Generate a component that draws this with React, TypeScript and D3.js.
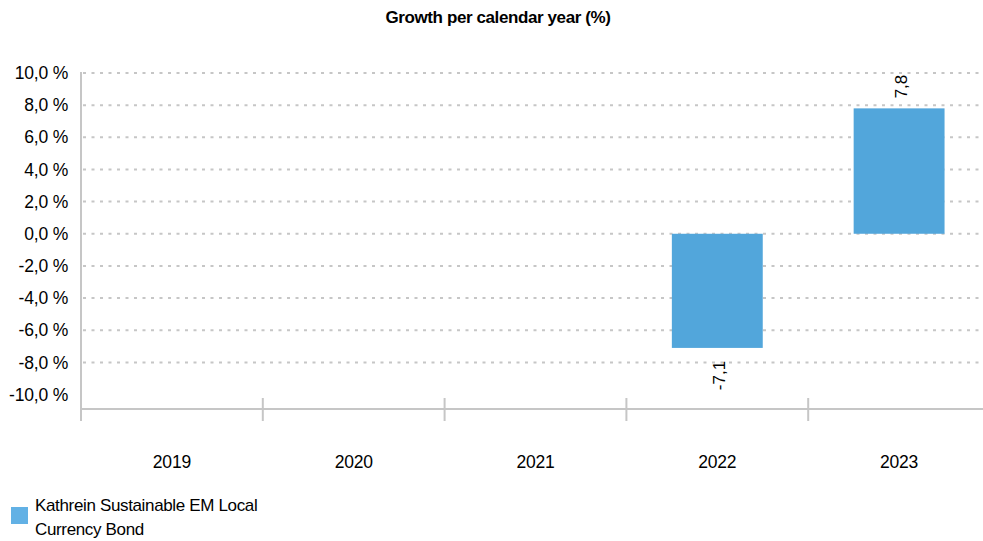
import React from "react";
import * as d3 from "d3";

const years = ["2019", "2020", "2021", "2022", "2023"];
const values: (number | null)[] = [null, null, null, -7.1, 7.8];
const yTicks = [-10, -8, -6, -4, -2, 0, 2, 4, 6, 8, 10];
const seriesName = ["Kathrein Sustainable EM Local", "Currency Bond"];
const title = "Growth per calendar year (%)";

const W = 983;
const H = 541;
const left = 81;
const right = 990;
const top = 73;
const bottom = 409;

export default function App() {
  const x = d3.scaleBand<string>().domain(years).range([left, right]).paddingInner(0.5).paddingOuter(0.25);
  const y = d3.scaleLinear().domain([-10.9, 10]).range([bottom, top]);
  const step = x.step();
  const fmt = (v: number) => d3.format(".1f")(v).replace(".", ",").replace("−", "-");
  const font = "'Liberation Sans', Arial, sans-serif";
  return (
    <svg width={W} height={H} style={{ position: "absolute", left: 0, top: 0 }} fontFamily={font}>
      <rect width={W} height={H} fill="#fff" />
      <text x={498} y={17} dy="0.35em" textAnchor="middle" fontWeight="bold" fontSize={17} letterSpacing={-0.4} fill="#000">
        {title}
      </text>
      {yTicks.map((t) => (
        <g key={t}>
          {t !== -10 && (
            <line x1={left + 2} x2={right} y1={y(t)} y2={y(t)} stroke="#c6c6c6" strokeWidth={2} strokeDasharray="3,5.5" />
          )}
          <text x={68} y={y(t)} dy="0.35em" textAnchor="end" fontSize={17.5} fill="#000" letterSpacing={-0.2}>
            {fmt(t) + " %"}
          </text>
        </g>
      ))}
      <line x1={left} x2={left} y1={top - 1} y2={bottom + 12} stroke="#c6c6c6" strokeWidth={2} />
      <line x1={left} x2={right} y1={bottom} y2={bottom} stroke="#c6c6c6" strokeWidth={2} />
      {years.map((yr, i) => (
        <g key={yr}>
          {i > 0 && (
            <line x1={left + i * step} x2={left + i * step} y1={bottom - 11} y2={bottom + 12} stroke="#c6c6c6" strokeWidth={2} />
          )}
          <text x={(x(yr) as number) + x.bandwidth() / 2} y={462} dy="0.35em" textAnchor="middle" fontSize={17.5} fill="#000" letterSpacing={-0.2}>
            {yr}
          </text>
        </g>
      ))}
      {years.map((yr, i) => {
        const v = values[i];
        if (v === null) return null;
        const bx = x(yr) as number;
        const y0 = y(0);
        const y1 = y(v);
        const cx = bx + x.bandwidth() / 2;
        const ly = v >= 0 ? y1 - 10 : y1 + 13;
        return (
          <g key={yr}>
            <rect x={bx} y={Math.min(y0, y1)} width={x.bandwidth()} height={Math.abs(y1 - y0)} fill="#52a6db" />
            <text
              transform={`translate(${cx + 2},${ly}) rotate(-90)`}
              textAnchor={v >= 0 ? "start" : "end"}
              dy="0.35em"
              fontSize={17}
              fill="#000"
            >
              {fmt(v)}
            </text>
          </g>
        );
      })}
      <rect x={11} y={507} width={17} height={17} fill="#62b1e5" />
      {seriesName.map((s, i) => (
        <text key={s} x={35} y={505 + i * 24} dy="0.35em" fontSize={17} fill="#000" letterSpacing={-0.35}>
          {s}
        </text>
      ))}
    </svg>
  );
}
